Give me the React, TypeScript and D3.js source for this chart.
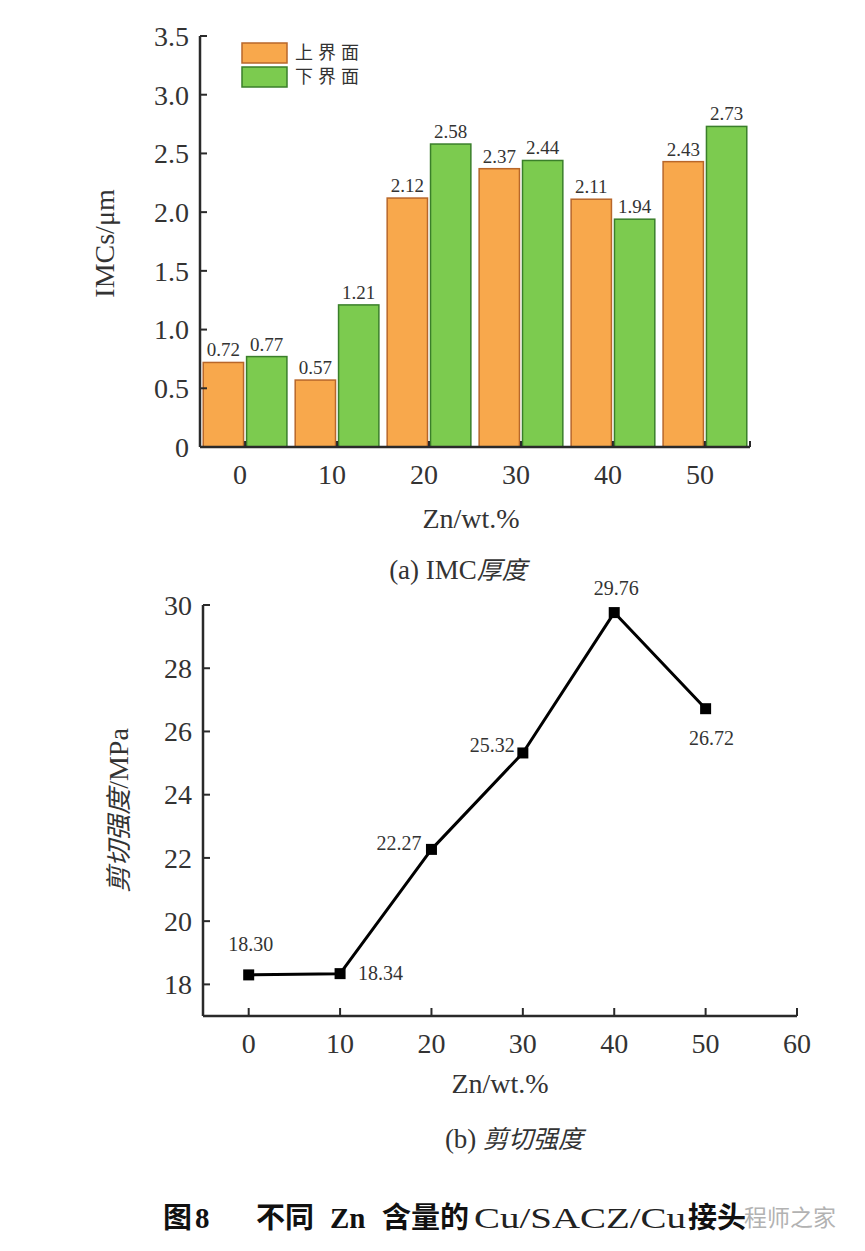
import * as d3 from "d3";

// (a) IMC thickness
const znLevels = ["0", "10", "20", "30", "40", "50"];
const upperIMC = [0.72, 0.57, 2.12, 2.37, 2.11, 2.43];
const lowerIMC = [0.77, 1.21, 2.58, 2.44, 1.94, 2.73];
const imcTicks = [0, 0.5, 1.0, 1.5, 2.0, 2.5, 3.0, 3.5];
const seriesNames = ["上界面", "下界面"];

// (b) shear strength
const zn = [0, 10, 20, 30, 40, 50];
const shear = [18.3, 18.34, 22.27, 25.32, 29.76, 26.72];
const shearLabels = ["18.30", "18.34", "22.27", "25.32", "29.76", "26.72"];
const shearYTicks = [18, 20, 22, 24, 26, 28, 30];
const shearXTicks = [0, 10, 20, 30, 40, 50, 60];

const serif = "Liberation Serif";
const cjk = "Noto Sans CJK SC";
const axisColor = "#2a2a2a";
const textColor = "#333";

const orange = { fill: "#F8A84C", stroke: "#B8672A" };
const green = { fill: "#7CCB4F", stroke: "#3A7F2A" };

function ChartA() {
  const left = 200, right = 750, top = 36, bottom = 447;
  const x = d3.scaleBand().domain(znLevels).range([left, right]).paddingInner(0.09).paddingOuter(0.035);
  const sub = d3.scaleBand().domain(["u", "l"]).range([0, x.bandwidth()]).paddingInner(0.07);
  const y = d3.scaleLinear().domain([0, 3.5]).range([bottom, top]);
  const series = [
    { key: "u", vals: upperIMC, c: orange },
    { key: "l", vals: lowerIMC, c: green },
  ];
  return (
    <g>
      {series.map((s) =>
        s.vals.map((v, i) => {
          const bx = (x(znLevels[i]) ?? 0) + (sub(s.key) ?? 0);
          return (
            <g key={s.key + i}>
              <rect x={bx} y={y(v)} width={sub.bandwidth()} height={y(0) - y(v)}
                fill={s.c.fill} stroke={s.c.stroke} strokeWidth={1.5} />
              <text x={bx + sub.bandwidth() / 2} y={y(v) - 6} textAnchor="middle"
                fontFamily={serif} fontSize={19} fill={textColor}>{v.toFixed(2)}</text>
            </g>
          );
        })
      )}
      {/* axes */}
      <line x1={left} x2={left} y1={top} y2={bottom} stroke={axisColor} strokeWidth={2.5} />
      <line x1={left} x2={right} y1={bottom} y2={bottom} stroke={axisColor} strokeWidth={2.5} />
      {imcTicks.map((t) => (
        <g key={t}>
          <line x1={left} x2={left + 7} y1={y(t)} y2={y(t)} stroke={axisColor} strokeWidth={2} />
          <text x={left - 11} y={y(t)} dy="0.35em" textAnchor="end" fontFamily={serif}
            fontSize={28} fill={textColor}>{t === 0 ? "0" : t.toFixed(1)}</text>
        </g>
      ))}
      {znLevels.map((z) => {
        const cx = (x(z) ?? 0) + x.bandwidth() / 2;
        return (
          <g key={z}>
            <line x1={cx} x2={cx} y1={bottom} y2={bottom - 6} stroke={axisColor} strokeWidth={2} />
            <text x={cx - 5} y={bottom + 37} textAnchor="middle" fontFamily={serif}
              fontSize={28} fill={textColor}>{z}</text>
          </g>
        );
      })}
      <line x1={right} x2={right} y1={bottom} y2={bottom - 6} stroke={axisColor} strokeWidth={2} />
      <text x={471} y={528} textAnchor="middle" fontFamily={serif} fontSize={28} fill={textColor}>Zn/wt.%</text>
      <text transform={`translate(114,${(top + bottom) / 2 + 2}) rotate(-90)`} textAnchor="middle"
        fontFamily={serif} fontSize={28} fill={textColor}>IMCs/μm</text>
      <text x={458} y={579} textAnchor="middle" fontSize={27} fill={textColor}>
        <tspan fontFamily={serif}>(a)  IMC</tspan>
        <tspan fontFamily={cjk} fontStyle="italic" fontSize={25}>厚度</tspan>
      </text>
      {/* legend */}
      {seriesNames.map((n, i) => {
        const c = i === 0 ? orange : green;
        return (
          <g key={n} transform={`translate(242,${43 + i * 24})`}>
            <rect width={45} height={20} fill={c.fill} stroke={c.stroke} strokeWidth={1.5} />
            <text x={53} y={10} dy="0.35em" fontFamily={cjk} fontSize={18} letterSpacing={5}
              fill={textColor}>{n}</text>
          </g>
        );
      })}
    </g>
  );
}

function ChartB() {
  const left = 203, right = 797, top = 605, bottom = 1016;
  const x = d3.scaleLinear().domain([-5, 60]).range([left, right]);
  const y = d3.scaleLinear().domain([17, 30]).range([bottom, top]);
  const pts = zn.map((z, i) => [x(z), y(shear[i])] as [number, number]);
  const line = d3.line();
  // label offsets relative to each marker
  const offs: [number, number, string][] = [
    [2, -24, "middle"],
    [18, 6, "start"],
    [-10, 1, "end"],
    [-8, -1, "end"],
    [2, -18, "middle"],
    [6, 36, "middle"],
  ];
  return (
    <g>
      <line x1={left} x2={left} y1={top} y2={bottom} stroke={axisColor} strokeWidth={2.5} />
      <line x1={left} x2={right} y1={bottom} y2={bottom} stroke={axisColor} strokeWidth={2.5} />
      {shearYTicks.map((t) => (
        <g key={t}>
          <line x1={left} x2={left + 7} y1={y(t)} y2={y(t)} stroke={axisColor} strokeWidth={2} />
          <text x={left - 11} y={y(t)} dy="0.35em" textAnchor="end" fontFamily={serif}
            fontSize={28} fill={textColor}>{t}</text>
        </g>
      ))}
      {shearXTicks.map((t) => (
        <g key={t}>
          <line x1={x(t)} x2={x(t)} y1={bottom} y2={bottom - 8} stroke={axisColor} strokeWidth={2} />
          <text x={x(t)} y={bottom + 37} textAnchor="middle" fontFamily={serif}
            fontSize={28} fill={textColor}>{t}</text>
        </g>
      ))}
      <path d={line(pts) ?? ""} fill="none" stroke="#000" strokeWidth={3} strokeLinejoin="round" />
      {pts.map(([px, py], i) => (
        <g key={i}>
          <rect x={px - 5.5} y={py - 5.5} width={11} height={11} fill="#000" />
          <text x={px + offs[i][0]} y={py + offs[i][1]} textAnchor={offs[i][2] as any}
            fontFamily={serif} fontSize={20} fill={textColor}>{shearLabels[i]}</text>
        </g>
      ))}
      <text x={500} y={1093} textAnchor="middle" fontFamily={serif} fontSize={28} fill={textColor}>Zn/wt.%</text>
      <text transform={`translate(128,${(top + bottom) / 2}) rotate(-90)`} textAnchor="middle"
        fontSize={28} fill={textColor}>
        <tspan fontFamily={cjk} fontStyle="italic" fontSize={26}>剪切强度</tspan>
        <tspan fontFamily={serif}>/MPa</tspan>
      </text>
      <text x={514} y={1148} textAnchor="middle" fontSize={27} fill={textColor}>
        <tspan fontFamily={serif}>(b)  </tspan>
        <tspan fontFamily={cjk} fontStyle="italic" fontSize={25}>剪切强度</tspan>
      </text>
    </g>
  );
}

export default function App() {
  return (
    <svg width={865} height={1251} style={{ position: "absolute", left: 0, top: 0, background: "#fff" }}>
      <rect width={865} height={1251} fill="#fff" />
      <ChartA />
      <ChartB />
      <text y={1228} fontSize={29} fontWeight="bold" fill="#111">
        <tspan x={163} fontFamily={cjk}>图</tspan>
        <tspan x={195} fontFamily={serif}>8</tspan>
        <tspan x={256} fontFamily={cjk}>不同</tspan>
        <tspan x={330} fontFamily={serif}>Zn</tspan>
        <tspan x={382} fontFamily={cjk}>含量的</tspan>
      </text>
      <text x={474} y={1228} fontSize={30} fill="#222" fontFamily={serif}
        textLength={212} lengthAdjust="spacingAndGlyphs">Cu/SACZ/Cu</text>
      <text x={688} y={1228} fontSize={29} fontWeight="bold" fill="#111" fontFamily={cjk}>接头</text>
      <text x={836} y={1226} textAnchor="end" fontFamily={cjk} fontSize={23} fill="#999" opacity={0.75}>
        程师之家
      </text>
    </svg>
  );
}
